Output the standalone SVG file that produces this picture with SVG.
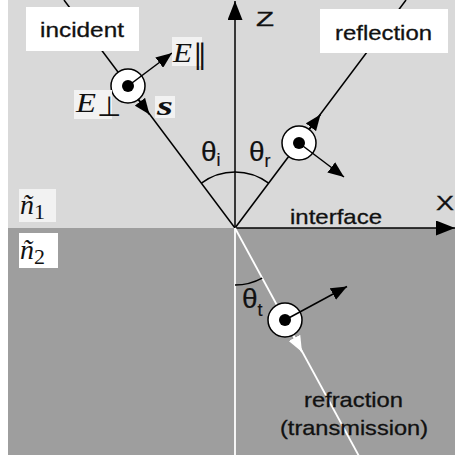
<svg xmlns="http://www.w3.org/2000/svg" width="455" height="458" viewBox="0 0 455 458">
<style>
.lbl{font-family:"Liberation Sans",Arial,sans-serif;font-size:21px;fill:#111;stroke:#111;stroke-width:0.3}
.th{font-family:"Liberation Sans",Arial,sans-serif;font-size:28px;fill:#111;stroke:#111;stroke-width:0.2}
.sub{font-size:18px}
.math{font-family:"Liberation Serif","Times New Roman",serif;font-style:italic;font-size:28px;fill:#111}
.up{font-style:normal}
.ln{stroke:#000;stroke-width:1.5;fill:none}
.wln{stroke:#fff;stroke-width:1.8;fill:none}
.ring{fill:#fff;stroke:#000;stroke-width:1.5}
.dot{fill:#000}
.box{fill:#fff}
.mbox{fill:#f2f2f2}
</style>
<defs>
<marker id="ah" markerUnits="userSpaceOnUse" markerWidth="17" markerHeight="13" refX="16" refY="6.5" orient="auto">
<path d="M0,0 L16,6.5 L0,13 z" fill="#000"/>
</marker>
<marker id="ahw" markerUnits="userSpaceOnUse" markerWidth="17" markerHeight="13" refX="16" refY="6.5" orient="auto">
<path d="M0,0 L16,6.5 L0,13 z" fill="#fff"/>
</marker>
<marker id="axh" markerUnits="userSpaceOnUse" markerWidth="20" markerHeight="15" refX="19" refY="7.5" orient="auto">
<path d="M0,0 L19,7.5 L0,15 z" fill="#000"/>
</marker>
</defs>

<g id="background">
<rect width="455" height="458" fill="#fff"/>
<rect x="8" y="0" width="447" height="228" fill="#d9d9d9"/>
<rect x="8" y="228" width="447" height="227" fill="#9e9e9e"/>
</g>

<g id="connectors">
<path class="ln" d="M64,0 L235,228"/>
<path class="ln" d="M235,228 L406,0"/>
<path class="ln" d="M235,228 L235,1" marker-end="url(#axh)"/>
<path class="ln" d="M235,228 L455,228" marker-end="url(#axh)"/>
<path class="wln" d="M235,228 L235,458"/>
<path class="wln" d="M235,228 L360,458"/>
<path class="ln" d="M201.4,183.2 A56,56 0 0 1 268.6,183.2"/>
<path class="ln" d="M235,285 A57,57 0 0 0 262.2,278.1"/>
</g>

<g id="incident">
<rect class="box" x="26" y="7" width="113" height="44"/>
<text class="lbl" x="40" y="37" textLength="84" lengthAdjust="spacingAndGlyphs">incident</text>
<path class="ln" d="M128,86 L149.5,114.5" marker-end="url(#ah)"/>
<circle class="ring" cx="128" cy="86" r="17"/>
<circle class="dot" cx="128" cy="86" r="6"/>
<path class="ln" d="M128,86 L172,53" marker-end="url(#ah)"/>
<rect class="mbox" x="172" y="37" width="30" height="29"/>
<text class="math" x="173" y="62" textLength="19" lengthAdjust="spacingAndGlyphs">E</text>
<text class="math up" x="193" y="64" font-size="14">∥</text>
<rect class="mbox" x="74" y="90" width="38" height="29"/>
<text class="math" x="76" y="112" textLength="20" lengthAdjust="spacingAndGlyphs">E</text>
<text class="math up" x="97" y="116" font-size="14">⊥</text>
<rect class="mbox" x="155" y="96" width="20" height="22"/>
<text class="math" x="157" y="115" font-size="30" font-weight="bold" textLength="16" lengthAdjust="spacingAndGlyphs">s</text>
</g>

<g id="reflection">
<rect class="box" x="320" y="9" width="128" height="44"/>
<text class="lbl" x="335" y="39.5" textLength="97" lengthAdjust="spacingAndGlyphs">reflection</text>
<path class="ln" d="M299,143 L320.5,114.5" marker-end="url(#ah)"/>
<circle class="ring" cx="299" cy="143" r="17"/>
<circle class="dot" cx="299" cy="143" r="6"/>
<path class="ln" d="M299,143 L344,177" marker-end="url(#ah)"/>
</g>

<g id="refraction">
<path class="wln" d="M285,320 L302,352" marker-end="url(#ahw)"/>
<circle class="ring" cx="285" cy="320" r="17"/>
<circle class="dot" cx="285" cy="320" r="6"/>
<path class="ln" d="M285,320 L347,286.5" marker-end="url(#ah)"/>
<text class="lbl" x="304" y="407" font-size="20" textLength="99" lengthAdjust="spacingAndGlyphs">refraction</text>
<text class="lbl" x="280" y="435" font-size="20" textLength="148" lengthAdjust="spacingAndGlyphs">(transmission)</text>
</g>

<g id="axes-labels">
<text class="lbl" x="256" y="26" font-size="27" textLength="18" lengthAdjust="spacingAndGlyphs">Z</text>
<text class="lbl" x="436" y="210" font-size="26" textLength="18" lengthAdjust="spacingAndGlyphs">X</text>
<text class="lbl" x="290" y="224" textLength="92" lengthAdjust="spacingAndGlyphs">interface</text>
</g>

<g id="angles">
<text class="th" x="201" y="161">θ<tspan class="sub" dy="5">i</tspan></text>
<text class="th" x="249" y="161">θ<tspan class="sub" dy="6">r</tspan></text>
<text class="th" x="242" y="308">θ<tspan class="sub" dy="8">t</tspan></text>
</g>

<g id="media">
<rect class="mbox" x="19" y="189" width="37" height="33"/>
<text class="math" x="20" y="214" font-size="34">ñ<tspan class="up" font-size="22" dy="5">1</tspan></text>
<rect class="box" x="19" y="233" width="39" height="35"/>
<text class="math" x="20" y="259" font-size="34">ñ<tspan class="up" font-size="22" dy="5">2</tspan></text>
</g>
</svg>
